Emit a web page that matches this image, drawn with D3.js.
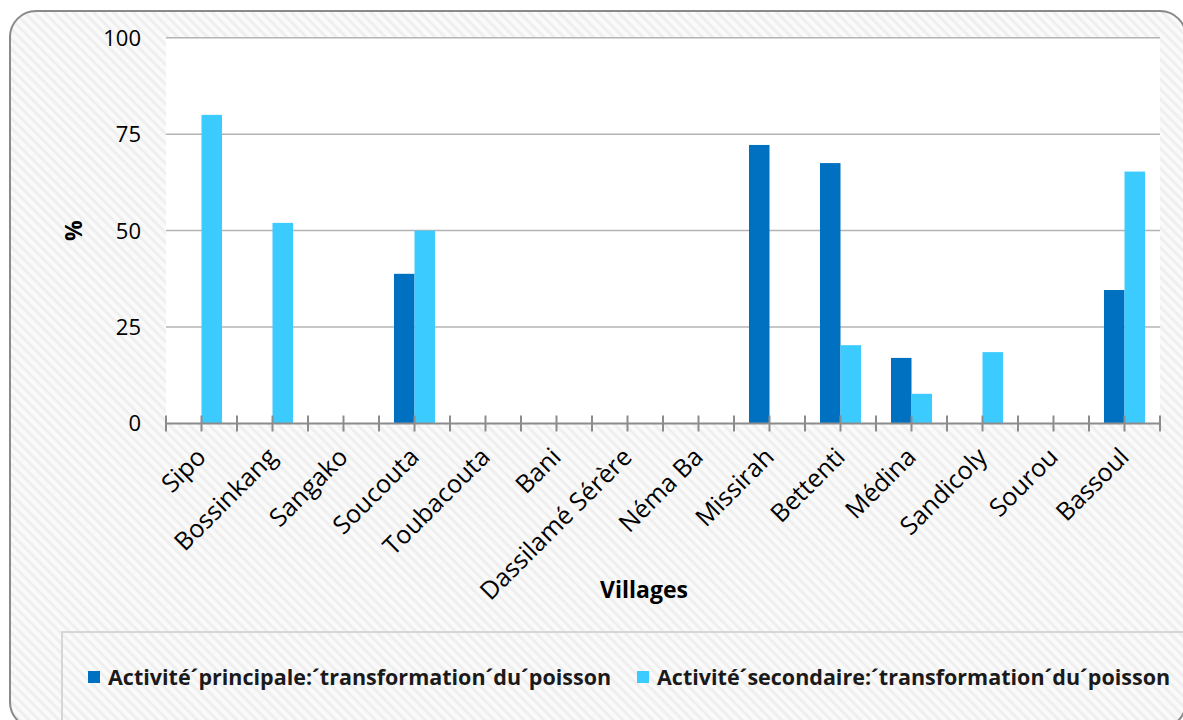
<!DOCTYPE html>
<html>
<head>
<meta charset="utf-8">
<script src="https://cdn.jsdelivr.net/npm/d3@7"></script>
<style>
  html, body { margin: 0; padding: 0; background: #ffffff; overflow: hidden; }
  svg { display: block; }
</style>
</head>
<body>
<svg id="chart" width="1183" height="720"></svg>
<script>
// Villages and share (%) of women for whom fish processing is the main / secondary activity
const villages = ["Sipo", "Bossinkang", "Sangako", "Soucouta", "Toubacouta", "Bani",
  "Dassilamé Sérère", "Néma Ba", "Missirah", "Bettenti", "Médina", "Sandicoly", "Sourou", "Bassoul"];
const principale = [0, 0, 0, 38.8, 0, 0, 0, 0, 72.2, 67.5, 17.0, 0, 0, 34.6];
const secondaire = [80, 52, 0, 50, 0, 0, 0, 0, 0, 20.3, 7.7, 18.5, 0, 65.3];
const seriesNames = ["Activité´principale:´transformation´du´poisson",
  "Activité´secondaire:´transformation´du´poisson"];
const yTicks = [0, 25, 50, 75, 100];

const colors = ["#0070c0", "#3ccbff"];
const fontFamily = "'Open Sans', 'DejaVu Sans', sans-serif";

const svg = d3.select("#chart");

// hatched background
const defs = svg.append("defs");
const pat = defs.append("pattern")
  .attr("id", "hatch").attr("patternUnits", "userSpaceOnUse")
  .attr("width", 7).attr("height", 7)
  .attr("patternTransform", "rotate(-45)");
pat.append("rect").attr("width", 7).attr("height", 7).attr("fill", "#fafafa");
pat.append("rect").attr("width", 3).attr("height", 7).attr("fill", "#efefef");

// outer frame
svg.append("rect")
  .attr("x", 10).attr("y", 11).attr("width", 1176).attr("height", 717)
  .attr("rx", 26).attr("ry", 26)
  .attr("fill", "url(#hatch)")
  .attr("stroke", "#8a8a8a").attr("stroke-width", 2);

const plot = { left: 166, right: 1160, top: 37.7, bottom: 423.5 };

const x = d3.scaleBand().domain(villages).range([plot.left, plot.right]).paddingInner(0).paddingOuter(0);
const x1 = d3.scaleBand().domain([0, 1]).range([0, x.bandwidth()]).paddingInner(0).paddingOuter(0.73);
const y = d3.scaleLinear().domain([0, 100]).range([plot.bottom, plot.top]);

// plot area
svg.append("rect")
  .attr("x", plot.left).attr("y", plot.top)
  .attr("width", plot.right - plot.left).attr("height", plot.bottom - plot.top)
  .attr("fill", "#ffffff");

// gridlines
svg.append("g").selectAll("line")
  .data(yTicks.filter(d => d > 0))
  .join("line")
  .attr("x1", plot.left).attr("x2", plot.right)
  .attr("y1", d => y(d)).attr("y2", d => y(d))
  .attr("stroke", "#b4b4b4").attr("stroke-width", 1.5);

// y tick labels
svg.append("g").selectAll("text")
  .data(yTicks)
  .join("text")
  .attr("x", 141).attr("y", d => y(d))
  .attr("dy", "0.36em")
  .attr("text-anchor", "end")
  .attr("font-family", fontFamily).attr("font-size", 22)
  .attr("fill", "#000")
  .text(d => d);

// y axis title
svg.append("text")
  .attr("transform", `translate(82,${y(50)}) rotate(-90)`)
  .attr("text-anchor", "middle")
  .attr("font-family", fontFamily).attr("font-size", 23).attr("font-weight", "bold")
  .text("%");

// bars
const barData = [];
villages.forEach((v, i) => {
  barData.push({ v, s: 0, val: principale[i] });
  barData.push({ v, s: 1, val: secondaire[i] });
});
svg.append("g").selectAll("rect")
  .data(barData.filter(d => d.val > 0))
  .join("rect")
  .attr("x", d => x(d.v) + x1(d.s))
  .attr("width", x1.bandwidth())
  .attr("y", d => y(d.val))
  .attr("height", d => y(0) - y(d.val))
  .attr("fill", d => colors[d.s]);

// x axis line with tick marks at category edges and centres
const axisG = svg.append("g");
axisG.append("line")
  .attr("x1", plot.left).attr("x2", plot.right)
  .attr("y1", y(0)).attr("y2", y(0))
  .attr("stroke", "#8c8c8c").attr("stroke-width", 2);
const tickPos = [];
villages.forEach(v => { tickPos.push(x(v)); tickPos.push(x(v) + x.bandwidth() / 2); });
tickPos.push(plot.right);
axisG.selectAll("line.tick")
  .data(tickPos)
  .join("line")
  .attr("class", "tick")
  .attr("x1", d => d).attr("x2", d => d)
  .attr("y1", y(0) - 8).attr("y2", y(0) + 8)
  .attr("stroke", "#8c8c8c").attr("stroke-width", 2);

// category labels
svg.append("g").selectAll("text")
  .data(villages)
  .join("text")
  .attr("transform", d => `translate(${x(d) + x.bandwidth() / 2 + 6},${y(0) + 35}) rotate(-45)`)
  .attr("text-anchor", "end")
  .attr("font-family", fontFamily).attr("font-size", 25)
  .attr("fill", "#000")
  .text(d => d);

// x axis title
svg.append("text")
  .attr("x", 644).attr("y", 598)
  .attr("text-anchor", "middle")
  .attr("font-family", fontFamily).attr("font-size", 23).attr("font-weight", "bold")
  .text("Villages");

// legend box
svg.append("rect")
  .attr("x", 62).attr("y", 632).attr("width", 1200).attr("height", 200)
  .attr("fill", "none").attr("stroke", "#d6d6d6").attr("stroke-width", 2);

const legendX = [88, 637];
const leg = svg.append("g").selectAll("g")
  .data(seriesNames)
  .join("g")
  .attr("transform", (d, i) => `translate(${legendX[i]},671)`);
leg.append("rect")
  .attr("width", 12).attr("height", 12)
  .attr("fill", (d, i) => colors[i]);
leg.append("text")
  .attr("x", 20).attr("y", 6)
  .attr("dy", "0.36em")
  .attr("font-family", fontFamily).attr("font-size", 21.5).attr("font-weight", "bold")
  .attr("fill", "#1a1a1a")
  .text(d => d);
</script>
</body>
</html>
